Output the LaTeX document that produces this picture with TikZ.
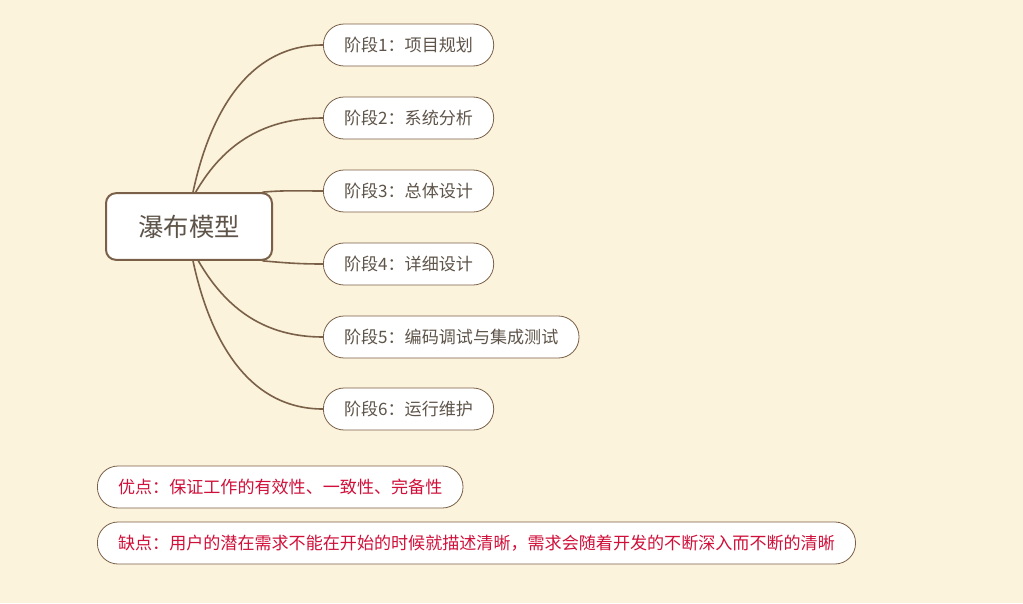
\documentclass[tikz,border=0pt]{standalone}
\usepackage{fontspec}
\newfontfamily\cjk{Noto Sans CJK SC}
\definecolor{paper}{HTML}{FBF3DC}
\definecolor{branch}{HTML}{7A6048}
\definecolor{ink}{HTML}{5E5449}
\definecolor{note}{HTML}{D0103A}
\tikzset{
  rootbox/.style={draw=branch, line width=1.5pt, fill=white, rounded corners=7.5pt,
    minimum width=124.5pt, minimum height=50pt, text=ink, font=\cjk\fontsize{19}{19}\selectfont},
  stagebox/.style={draw=branch, line width=0.6pt, fill=white, rounded corners=15.5pt,
    minimum height=31.5pt, inner xsep=15.5pt, anchor=west, text=ink, font=\cjk\fontsize{12.8}{12.8}\selectfont},
  notebox/.style={stagebox, text=note},
  branchline/.style={draw=branch, line width=1.2pt}
}
\begin{document}
\begin{tikzpicture}[x=0.75pt, y=-0.75pt]
        \fill[paper] (0,0) rectangle (1023,603);
        \useasboundingbox (0,0) rectangle (1023,603);

        % Root
        \node[rootbox] (root) at (189, 226.5) {瀑布模型};

        % Stages
        \node[stagebox] (s1) at (323, 45) {阶段1：项目规划};
        \node[stagebox] (s2) at (323, 118) {阶段2：系统分析};
        \node[stagebox] (s3) at (323, 191) {阶段3：总体设计};
        \node[stagebox] (s4) at (323, 264) {阶段4：详细设计};
        \node[stagebox] (s5) at (323, 337) {阶段5：编码调试与集成测试};
        \node[stagebox] (s6) at (323, 409) {阶段6：运行维护};

        % Notes
        \node[notebox] (pro) at (97, 487) {优点：保证工作的有效性、一致性、完备性};
        \node[notebox] (con) at (97, 543) {缺点：用户的潜在需求不能在开始的时候就描述清晰，需求会随着开发的不断深入而不断的清晰};

        % Connections
        \draw[branchline] ([xshift=3]root.north) to[out=78, in=180] (s1.west);
        \draw[branchline] ([xshift=5]root.north) to[out=60, in=180] (s2.west);
        \draw[branchline] ([xshift=-8]root.north east) to[out=5, in=180] (s3.west);
        \draw[branchline] ([xshift=-8]root.south east) to[out=-5, in=180] (s4.west);
        \draw[branchline] ([xshift=7]root.south) to[out=-60, in=180] (s5.west);
        \draw[branchline] ([xshift=3]root.south) to[out=-78, in=180] (s6.west);
    \end{tikzpicture}
\end{document}
